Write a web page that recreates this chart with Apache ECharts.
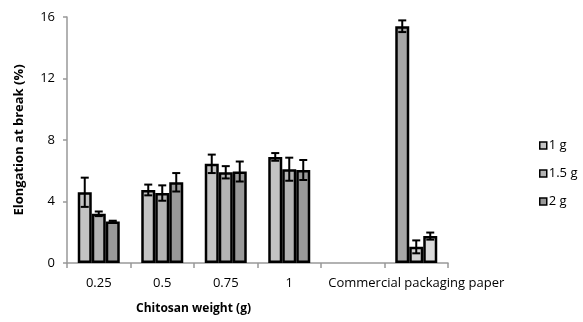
<!DOCTYPE html>
<html><head><meta charset="utf-8">
<script src="https://cdn.jsdelivr.net/npm/echarts@6/dist/echarts.min.js"></script>
<style>html,body{margin:0;padding:0;background:#fff}#c{width:583px;height:322px}</style>
</head><body><div id="c"></div>
<script>
var categories = ['0.25', '0.5', '0.75', '1', '', 'Commercial packaging paper'];
var seriesNames = ['1 g', '1.5 g', '2 g'];
var values1g = [4.6, 4.75, 6.45, 6.9, null, 15.4];
var values15g = [3.2, 4.55, 5.9, 6.1, null, 1.05];
var values2g = [2.7, 5.25, 5.95, 6.05, null, 1.75];
var err1g = [0.95, 0.35, 0.6, 0.25, null, 0.38];
var err15g = [0.15, 0.5, 0.4, 0.75, null, 0.42];
var err2g = [0.05, 0.6, 0.65, 0.65, null, 0.23];
var yTicks = [0, 4, 8, 12, 16];

var values = [values1g, values15g, values2g];
var errs = [err1g, err15g, err2g];
var colors = ['#c4c4c4', '#b3b3b3', '#999999'];
var commercialColors = ['#a6a6a6', '#d2d2d2', '#dadada'];
var BW = 14;
var FONT = 'Open Sans';

var series = [];
values.forEach(function (vals, si) {
  series.push({
    name: seriesNames[si],
    type: 'bar',
    barWidth: BW,
    barGap: '0%',
    data: vals.map(function (v, i) {
      if (v == null) return '-';
      var o = { value: v };
      if (i === 5) o.itemStyle = { color: commercialColors[si], borderColor: '#000', borderWidth: 2.5 };
      return o;
    }),
    itemStyle: { color: colors[si], borderColor: '#000', borderWidth: 2.5 },
    z: 2
  });
});
values.forEach(function (vals, si) {
  var data = [];
  vals.forEach(function (v, i) { if (v != null) data.push([i, v - errs[si][i], v + errs[si][i]]); });
  series.push({
    type: 'custom',
    name: seriesNames[si] + ' err',
    z: 5,
    silent: true,
    data: data,
    renderItem: function (params, api) {
      var x = api.value(0);
      var lo = api.coord([x, api.value(1)]);
      var hi = api.coord([x, api.value(2)]);
      var cx = lo[0] + (si - 1) * BW;
      var hw = 4;
      var st = { stroke: '#000', lineWidth: 2 };
      return { type: 'group', children: [
        { type: 'line', shape: { x1: cx, y1: lo[1], x2: cx, y2: hi[1] }, style: st },
        { type: 'line', shape: { x1: cx - hw, y1: lo[1], x2: cx + hw, y2: lo[1] }, style: st },
        { type: 'line', shape: { x1: cx - hw, y1: hi[1], x2: cx + hw, y2: hi[1] }, style: st }
      ]};
    }
  });
});

var chart = echarts.init(document.getElementById('c'));
chart.setOption({
  animation: false,
  textStyle: { fontFamily: FONT },
  grid: { left: 67, right: 135, top: 17, bottom: 59, containLabel: false },
  legend: {
    data: seriesNames,
    orient: 'vertical', left: 534, top: 134,
    itemWidth: 7, itemHeight: 7, itemGap: 15,
    icon: 'rect',
    itemStyle: { borderColor: '#000', borderWidth: 1.5 },
    textStyle: { fontFamily: FONT, fontSize: 13, color: '#000', padding: [0, 0, 0, -3] }
  },
  xAxis: {
    type: 'category', data: categories,
    axisLine: { lineStyle: { color: '#999', width: 1.5 } },
    axisTick: { show: true, length: 5, lineStyle: { color: '#999', width: 1.5 } },
    axisLabel: { interval: 0, color: '#000', fontSize: 13, margin: 14, fontFamily: FONT },
    name: 'Chitosan weight (g)', nameLocation: 'middle', nameGap: 40,
    nameTextStyle: { fontWeight: 'bold', fontSize: 12, color: '#000', fontFamily: FONT, padding: [0, 128, 0, 0] }
  },
  yAxis: {
    type: 'value', min: 0, max: 16, interval: 4,
    splitLine: { show: false },
    axisLine: { show: true, lineStyle: { color: '#999', width: 1.5 } },
    axisTick: { show: true, length: 4, inside: false, lineStyle: { color: '#999', width: 1.5 } },
    axisLabel: { color: '#000', fontSize: 13, margin: 12, fontFamily: FONT,
      formatter: function (v) { return yTicks.indexOf(v) >= 0 ? String(v) : ''; } },
    name: 'Elongation at break (%)', nameLocation: 'middle', nameGap: 41,
    nameTextStyle: { fontWeight: 'bold', fontSize: 13, color: '#000', fontFamily: FONT }
  },
  series: series
});
</script></body></html>
